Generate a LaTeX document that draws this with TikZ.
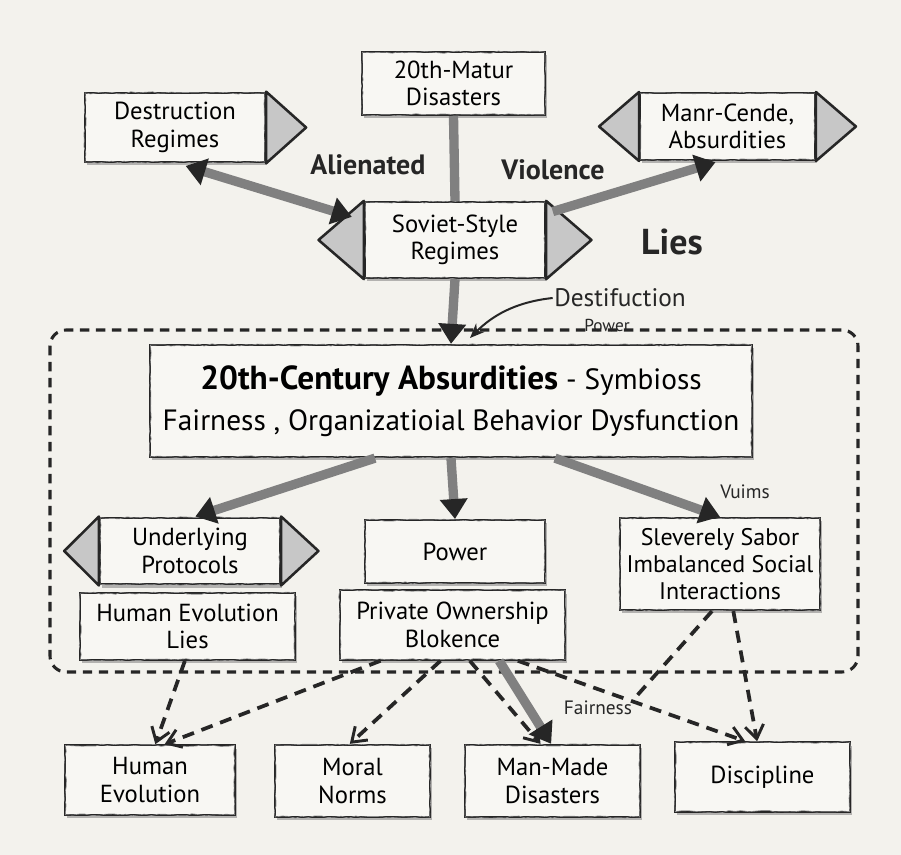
\documentclass[tikz,border=0pt]{standalone}
\usepackage{fontspec}
\setmainfont{PT Sans}
\usetikzlibrary{arrows.meta,shadows,decorations.pathmorphing,calc}
\definecolor{paper}{RGB}{243,242,237}
\definecolor{boxfill}{RGB}{248,247,243}
\definecolor{pencil}{RGB}{38,38,38}
\tikzset{
  sk/.style={draw=pencil, line width=1.7pt, fill=boxfill, align=center, inner sep=2pt,
    font=\fontsize{18.5}{20.5}\selectfont,
    drop shadow={shadow xshift=1.5pt, shadow yshift=-2.5pt, opacity=0.45, fill=black!60},
    postaction={draw=black!45, line width=0.5pt, decorate,
      decoration={random steps, segment length=5pt, amplitude=0.9pt}}},
  tipshape/.style={draw=pencil, line width=1.9pt, fill=black!22, line join=round},
  lab/.style={font=\fontsize{14.5}{16}\selectfont, text=pencil, inner sep=1pt},
  biglab/.style={font=\bfseries\fontsize{21}{23}\selectfont, text=pencil, inner sep=1pt},
  fat/.style={line width=7pt, draw=black!50, -{Triangle[length=15pt,width=20pt,color=pencil]}},
  fatplain/.style={line width=7pt, draw=black!50},
  fatboth/.style={line width=7pt, draw=black!50,
    {Triangle[length=15pt,width=20pt,color=pencil]}-{Triangle[length=15pt,width=20pt,color=pencil]}},
  dashl/.style={draw=pencil, line width=2.8pt, dash pattern=on 9pt off 6pt,
    -{Straight Barb[length=10pt,width=14pt,line width=2.2pt]}},
  dashplain/.style={draw=pencil, line width=2.8pt, dash pattern=on 9pt off 6pt},
  thinarr/.style={draw=pencil, line width=1.5pt, -{Stealth[length=11pt,width=9pt]}},
  frame/.style={draw=pencil, line width=2.3pt, dash pattern=on 7pt off 5pt, rounded corners=12pt}
}
\begin{document}
\begin{tikzpicture}[x=0.75pt,y=-0.75pt]
\fill[paper] (0,0) rectangle (901,855);
\useasboundingbox (0,0) rectangle (901,855);

% dashed container
\draw[frame] (50,330) rectangle (858,672);

% top row
\node[sk, minimum width=135pt, minimum height=52pt] (dr) at (175,127.5) {Destruction\\Regimes};
\draw[tipshape] (dr.north east) -- ([xshift=30pt]dr.east) -- (dr.south east) -- cycle;

\node[sk, minimum width=137pt, minimum height=47pt] (mat) at (453.5,83.5) {20th-Matur\\Disasters};

\node[sk, minimum width=131pt, minimum height=50pt] (mca) at (727.5,126.5) {Manr-Cende,\\Absurdities};
\draw[tipshape] (mca.north east) -- ([xshift=30pt]mca.east) -- (mca.south east) -- cycle;
\draw[tipshape] (mca.north west) -- ([xshift=-30pt]mca.west) -- (mca.south west) -- cycle;

\node[sk, minimum width=135pt, minimum height=57pt] (sov) at (455,240) {Soviet-Style\\Regimes};
\draw[tipshape] (sov.north east) -- ([xshift=34pt]sov.east) -- (sov.south east) -- cycle;
\draw[tipshape] (sov.north west) -- ([xshift=-34pt]sov.west) -- (sov.south west) -- cycle;

\node[biglab] (alien) at (368,165) {Alienated};
\node[biglab] (viol) at (553,170) {Violence};
\node[font=\bfseries\fontsize{27}{29}\selectfont, text=pencil] (lies) at (672,242) {Lies};
\node[font=\fontsize{19}{21}\selectfont, text=pencil, inner sep=1pt] (dest) at (620,298) {Destifuction};
\node[lab, font=\fontsize{13}{15}\selectfont] (pw) at (607,325) {Power};

% main box
\node[sk, minimum width=451pt, minimum height=84pt, font=\fontsize{22}{31}\selectfont] (main) at (451,401)
  {{\bfseries\fontsize{25}{31}\selectfont 20th-Century Absurdities} - Symbioss\\
   Fairness , Organizatioial Behavior Dysfunction};

% middle row
\node[sk, minimum width=135pt, minimum height=50pt] (up) at (190,551) {Underlying\\Protocols};
\draw[tipshape] (up.north east) -- ([xshift=28pt]up.east) -- (up.south east) -- cycle;
\draw[tipshape] (up.north west) -- ([xshift=-26pt]up.west) -- (up.south west) -- cycle;

\node[sk, minimum width=161pt, minimum height=50pt] (hel) at (187.5,626.5) {Human Evolution\\Lies};
\node[sk, minimum width=135pt, minimum height=47pt] (pow) at (455,551.5) {Power};
\node[sk, minimum width=169pt, minimum height=52pt] (pob) at (452.5,625) {Private Ownership\\Blokence};
\node[sk, minimum width=150pt, minimum height=69pt, font=\fontsize{18}{20}\selectfont] (ssi) at (720,564) {Sleverely Sabor\\Imbalanced Social\\Interactions};
\node[lab] (vu) at (745,492) {Vuims};

% bottom row
\node[sk, minimum width=127pt, minimum height=52pt] (b1) at (150,780) {Human\\Evolution};
\node[sk, minimum width=116pt, minimum height=54pt] (b2) at (352.5,781) {Moral\\Norms};
\node[sk, minimum width=131pt, minimum height=54pt] (b3) at (552.5,781) {Man-Made\\Disasters};
\node[sk, minimum width=131pt, minimum height=52pt] (b4) at (762.5,777) {Discipline};
\node[lab] (fair) at (598,708) {Fairness};

% connectors top
\draw[fatplain] (mat.south) -- (sov.north);
\draw[fat] (sov.south) -- (main.north);
\draw[fatboth] ([xshift=8pt,yshift=-2pt]dr.south) -- ([xshift=-9pt,yshift=-12pt]sov.north west);
\draw[fat] ([xshift=5pt,yshift=-8pt]sov.north east) -- ([xshift=-9pt,yshift=-1pt]mca.south);
\coordinate (destend) at (470,338);
\draw[thinarr] (dest.west) .. controls (515,302) and (492,316) .. (destend);

% connectors from main
\draw[fat] ([xshift=-57pt]main.south) -- ([xshift=4pt]up.north);
\draw[fat] (main.south) -- (pow.north);
\draw[fat] ([xshift=78pt]main.south) -- (ssi.north);

% dashed to bottom
\draw[dashl] ([xshift=-2pt]hel.south) -- ([xshift=4pt]b1.north);
\draw[dashl] ([xshift=-54pt]pob.south) -- ([xshift=11pt]b1.north);
\draw[dashl] ([xshift=-9pt]pob.south) -- ([xshift=-2pt]b2.north);
\draw[dashl] ([xshift=13pt]pob.south) -- ([xshift=-9pt]b3.north);
\draw[fat] ([xshift=35pt]pob.south) -- ([xshift=-1pt]b3.north);
\draw[dashl] ([xshift=49pt]pob.south) -- ([xshift=-13pt]b4.north);
\draw[dashplain] ([xshift=-6pt]ssi.south) -- (fair.north east);
\draw[dashl] ([xshift=10pt]ssi.south) -- ([xshift=-4pt]b4.north);
\end{tikzpicture}
\end{document}
